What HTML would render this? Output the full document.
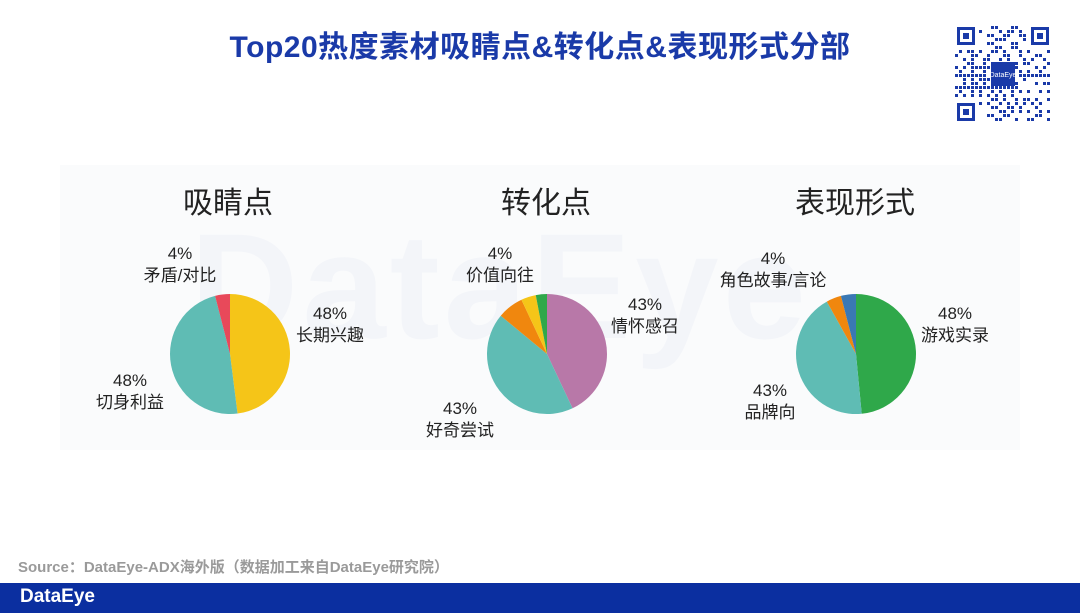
<!DOCTYPE html>
<html><head><meta charset="utf-8"><style>
body{margin:0;width:1080px;height:613px;background:#fff;position:relative;overflow:hidden;font-family:"Liberation Sans","Noto Sans CJK SC",sans-serif}
.abs{position:absolute}
.title{left:0;width:1080px;top:22px;text-align:center;font-size:30px;font-weight:bold;color:#1a3aa8;letter-spacing:0.5px}
.panel{left:60px;top:165px;width:960px;height:285px;background:#fafbfc}
.wm{left:190px;top:200px;font-size:150px;font-weight:bold;color:#f3f5f9;letter-spacing:4px}
.h{font-size:30px;color:#222;top:178px}
.lbl{font-size:17px;color:#222;text-align:center;line-height:22px}
.src{left:18px;top:556px;font-size:15px;color:#9a9a9a;font-weight:bold}
.bar{left:0;top:583px;width:1080px;height:30px;background:#0b2fa0}
.logo{left:20px;top:586px;color:#fff;font-size:19px;font-weight:bold}
</style></head><body>
<div class="abs title">Top20热度素材吸睛点&amp;转化点&amp;表现形式分部</div>
<svg class="abs" style="left:955px;top:25px" width="96" height="98">
<rect width="96" height="98" fill="#fff"/>
<g fill="#1a3aa8" id="dots"></g>
<g fill="#1a3aa8">
<rect x="2" y="2" width="18" height="18"/><rect x="76" y="2" width="18" height="18"/><rect x="2" y="78" width="18" height="18"/>
</g>
<g fill="#fff"><rect x="5" y="5" width="12" height="12"/><rect x="79" y="5" width="12" height="12"/><rect x="5" y="81" width="12" height="12"/></g>
<g fill="#1a3aa8"><rect x="8" y="8" width="6" height="6"/><rect x="82" y="8" width="6" height="6"/><rect x="8" y="84" width="6" height="6"/></g>
<rect x="36" y="37" width="24" height="24" fill="#1a3aa8"/>
<text x="48" y="52" font-size="7" fill="#fff" text-anchor="middle" font-family="Liberation Sans">DataEye</text>
</svg>
<div class="abs panel"></div>
<div class="abs wm">DataEye</div>
<div class="abs h" style="left:183px">吸睛点</div>
<div class="abs h" style="left:501px">转化点</div>
<div class="abs h" style="left:795px">表现形式</div>
<svg class="abs" style="left:0;top:0" width="1080" height="613" id="pies"></svg>
<div class="abs lbl" style="left:110px;top:243px;width:140px">4%<br>矛盾/对比</div>
<div class="abs lbl" style="left:285px;top:303px;width:90px">48%<br>长期兴趣</div>
<div class="abs lbl" style="left:80px;top:370px;width:100px">48%<br>切身利益</div>
<div class="abs lbl" style="left:450px;top:243px;width:100px">4%<br>价值向往</div>
<div class="abs lbl" style="left:600px;top:294px;width:90px">43%<br>情怀感召</div>
<div class="abs lbl" style="left:410px;top:398px;width:100px">43%<br>好奇尝试</div>
<div class="abs lbl" style="left:700px;top:248px;width:146px">4%<br>角色故事/言论</div>
<div class="abs lbl" style="left:910px;top:303px;width:90px">48%<br>游戏实录</div>
<div class="abs lbl" style="left:720px;top:380px;width:100px">43%<br>品牌向</div>
<div class="abs src">Source：DataEye-ADX海外版（数据加工来自DataEye研究院）</div>
<div class="abs bar"></div>
<div class="abs logo">DataEye</div>
<script>
const pie1Values=[48,48,4];
const pie1Colors=['#f5c518','#5fbcb4','#e8495a'];
const pie2Values=[43,43,7,4,3];
const pie2Colors=['#b878a8','#5fbcb4','#f0870e','#f5c518','#2fa84a'];
const pie3Values=[48,43,4,4];
const pie3Colors=['#2fa84a','#5fbcb4','#f0870e','#3a78b4'];
const NS='http://www.w3.org/2000/svg';
const svg=document.getElementById('pies');
function drawPie(vals,cols,cx,cy,r,name){
  const tot=vals.reduce((a,b)=>a+b,0);let a0=-Math.PI/2;
  vals.forEach((v,i)=>{
    const a1=a0+v/tot*2*Math.PI;
    const x0=cx+r*Math.cos(a0),y0=cy+r*Math.sin(a0),x1=cx+r*Math.cos(a1),y1=cy+r*Math.sin(a1);
    const p=document.createElementNS(NS,'path');
    p.setAttribute('d',`M${cx},${cy}L${x0},${y0}A${r},${r} 0 ${a1-a0>Math.PI?1:0} 1 ${x1},${y1}Z`);
    p.setAttribute('fill',cols[i]);
    
    
    svg.appendChild(p);a0=a1;
  });
}
drawPie(pie1Values,pie1Colors,230,354,60,'attention');
drawPie(pie2Values,pie2Colors,547,354,60,'conversion');
drawPie(pie3Values,pie3Colors,856,354,60,'format');
const dots=document.getElementById('dots');
for(let y=0;y<24;y++)for(let x=0;x<24;x++){
  if((x<6&&y<6)||(x>17&&y<6)||(x<6&&y>17))continue;
  const h=(x*37+y*91+x*y*13+(x^y)*7)%5;
  if(h<2){const r=document.createElementNS(NS,'rect');r.setAttribute('x',x*4);r.setAttribute('y',y*4+1);r.setAttribute('width',3);r.setAttribute('height',3);dots.appendChild(r);}
}
</script>
</body></html>
